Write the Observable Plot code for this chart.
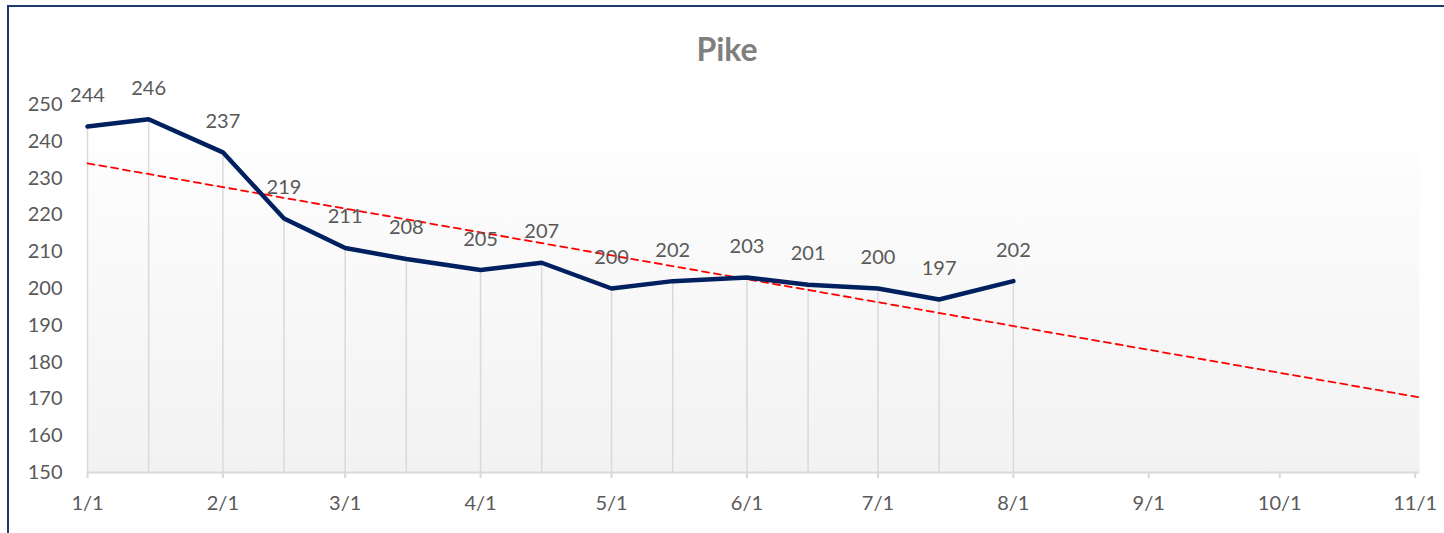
<!DOCTYPE html>
<html>
<head>
<meta charset="utf-8">
<script src="https://cdn.jsdelivr.net/npm/d3@7"></script>
<script src="https://cdn.jsdelivr.net/npm/@observablehq/plot@0.6"></script>
<style>
  html, body { margin: 0; padding: 0; background: #fff; }
  body { width: 1444px; height: 533px; overflow: hidden; position: relative; font-family: Lato, "Open Sans", sans-serif; }
  #frame { position: absolute; left: 7px; top: 5px; right: -10px; bottom: -10px;
           border-top: 2px solid #1f3a6e; border-left: 2px solid #1f3a6e; pointer-events: none; }
  #title { position: absolute; left: 0; width: 1454px; top: 29px; line-height: 40px; text-align: center;
           font-size: 32px; font-weight: bold; color: #7f7f7f; }
  #chart { position: absolute; left: 0; top: 70px; }
</style>
</head>
<body>
<div id="title">Pike</div>
<div id="chart"></div>
<div id="frame"></div>
<script>
// Sampling dates (1st and 15th of each month) and the measured values
const dates = [
  "2021-01-01", "2021-01-15", "2021-02-01", "2021-02-15", "2021-03-01",
  "2021-03-15", "2021-04-01", "2021-04-15", "2021-05-01", "2021-05-15",
  "2021-06-01", "2021-06-15", "2021-07-01", "2021-07-15", "2021-08-01"
];
const values = [244, 246, 237, 219, 211, 208, 205, 207, 200, 202, 203, 201, 200, 197, 202];

// Axis ticks
const monthTicks = [
  "2021-01-01", "2021-02-01", "2021-03-01", "2021-04-01", "2021-05-01", "2021-06-01",
  "2021-07-01", "2021-08-01", "2021-09-01", "2021-10-01", "2021-11-01"
];
const yTicks = [150, 160, 170, 180, 190, 200, 210, 220, 230, 240, 250];
const xDomain = ["2021-01-01", "2021-11-02"];
const yDomain = [150, 250];

const data = dates.map((d, i) => ({date: new Date(d), value: values[i]}));

// Least-squares linear trend over time, extended across the whole axis
const DAY = 864e5;
const xs = data.map(d => d.date / DAY), ys = data.map(d => d.value);
const mx = d3.mean(xs), my = d3.mean(ys);
const slope = d3.sum(xs, (x, i) => (x - mx) * (ys[i] - my)) / d3.sum(xs, x => (x - mx) ** 2);
const trendAt = t => my + slope * (t / DAY - mx);
const trend = xDomain.map(d => new Date(d)).map(t => ({date: t, value: trendAt(t)}));

const textColor = "#595959";
const gridColor = "#d9d9d9";

const svg = Plot.plot({
  width: 1444,
  height: 463,
  marginLeft: 87,
  marginRight: 25,
  marginTop: 34,
  marginBottom: 61,
  style: {fontFamily: "Lato, 'Open Sans', sans-serif", fontSize: "20px", color: textColor, background: "transparent"},
  x: {type: "utc", domain: xDomain.map(d => new Date(d)), label: null},
  y: {domain: yDomain, label: null},
  marks: [
    Plot.frame({fill: "url(#plotbg)", stroke: "none"}),
    Plot.ruleX(data, {x: "date", y1: yDomain[0], y2: "value", stroke: gridColor, strokeWidth: 1.5}),
    Plot.ruleY([yDomain[0]], {stroke: gridColor, strokeWidth: 2}),
    Plot.axisY({ticks: yTicks, tickSize: 0, tickPadding: 25, fill: textColor, fontSize: 20, label: null}),
    Plot.axisX({
      ticks: monthTicks.map(d => new Date(d)),
      tickFormat: d3.utcFormat("%-m/%-d"),
      tickSize: 6, tickPadding: 17,
      stroke: gridColor, strokeWidth: 2, fill: textColor, fontSize: 20, label: null
    }),
    Plot.line(trend, {x: "date", y: "value", stroke: "#ff0000", strokeWidth: 1.8, strokeDasharray: "7 5"}),
    Plot.line(data, {x: "date", y: "value", stroke: "#002060", strokeWidth: 4.5, strokeLinejoin: "miter"}),
    Plot.text(data, {x: "date", y: "value", text: d => String(d.value), dy: -31, fill: textColor, fontSize: 20})
  ]
});

// Soft vertical gradient behind the plotting area
const ns = "http://www.w3.org/2000/svg";
const defs = document.createElementNS(ns, "defs");
const grad = document.createElementNS(ns, "linearGradient");
grad.setAttribute("id", "plotbg");
grad.setAttribute("x1", "0"); grad.setAttribute("y1", "0");
grad.setAttribute("x2", "0"); grad.setAttribute("y2", "1");
[["0", "#ffffff"], ["0.133", "#ffffff"], ["0.133", "#fdfdfd"], ["1", "#f2f2f2"]].forEach(([o, c]) => {
  const s = document.createElementNS(ns, "stop");
  s.setAttribute("offset", o);
  s.setAttribute("stop-color", c);
  grad.appendChild(s);
});
defs.appendChild(grad);
svg.insertBefore(defs, svg.firstChild);

document.getElementById("chart").appendChild(svg);
</script>
</body>
</html>
